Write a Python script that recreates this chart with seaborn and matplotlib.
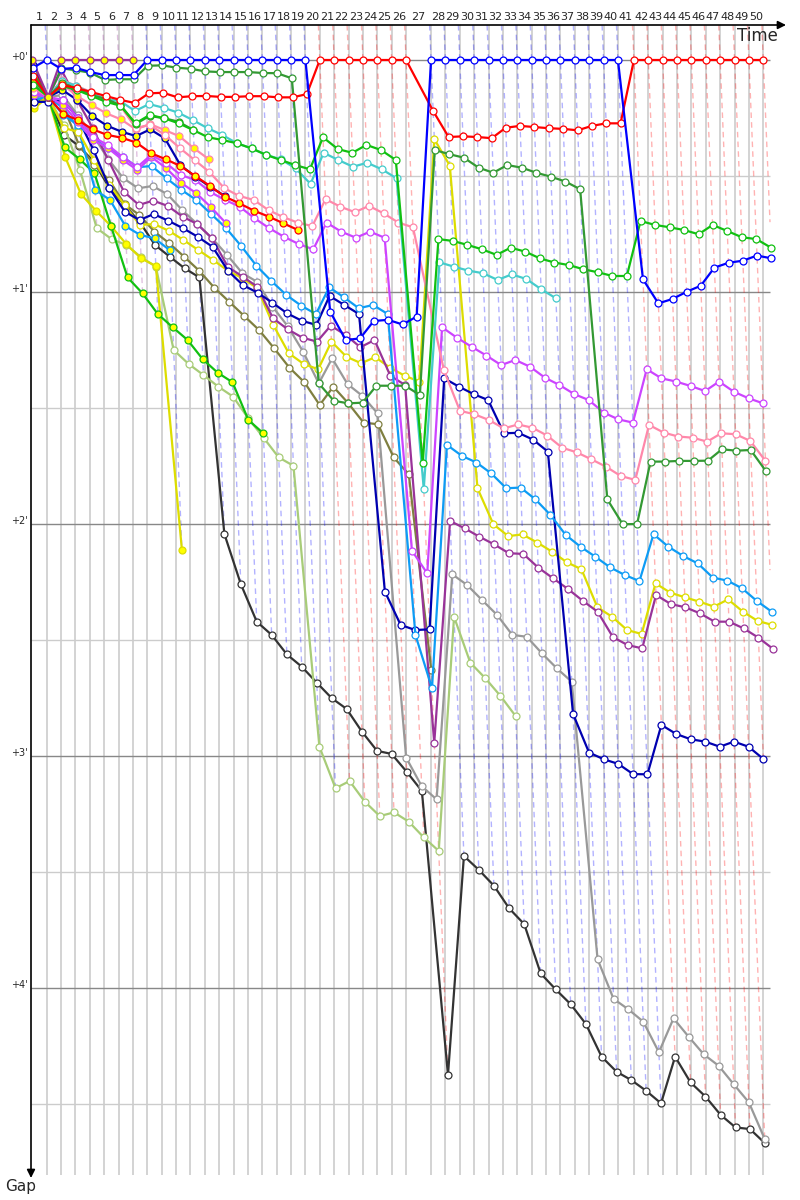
"""Race gap chart: gap to leader per lap, x axis is race time."""
import numpy as np
import matplotlib
matplotlib.use("Agg")
import matplotlib.pyplot as plt
import seaborn as sns

# leader lap times in seconds, laps 1..50
leader_lap_s = [90.0] * 50
leader_lap_s[26] = 156.5   # lap 27
leader_lap_s[40] = 100.2   # lap 41

# who led each lap (colour of the dashed lap line)
leader_by_lap = ["blue"] + ["purple"] * 6 + ["blue"] * 12 + ["red"] * 7 + ["blue"] * 14 + ["red"] * 10

# gap to leader in minutes, index = lap (0 = start)
gap_blue = [.034, 0, .039, .034, .052, .065, .065, .065] + [0] * 12 + \
    [1.085, 1.207, 1.2, 1.125, 1.12, 1.14, 1.106] + [0] * 14 + \
    [.945, 1.049, 1.03, .999, .973, .895, .874, .865, .843, .855]
gap_red = [.069, .159, .108, .121, .138, .155, .172, .185, .144, .141, .161, .156, .155, .159,
           .159, .156, .156, .161, .161, .147] + [0] * 7 + \
    [.22, .332, .329, .332, .337, .292, .284, .289, .294, .297, .303, .284, .273, .273] + [0] * 10
gap_dkgreen = [.056, .159, .036, .044, .055, .086, .083, .083, .025, .023, .033, .038, .049, .052,
               .052, .052, .056, .057, .079, 1.394, 1.469, 1.48, 1.477, 1.404, 1.404, 1.404, 1.444,
               .388, .406, .421, .464, .486, .453, .464, .486, .503, .524, .557, 1.894, 2.001, 2.0,
               1.731, 1.731, 1.728, 1.728, 1.727, 1.678, 1.684, 1.681, 1.772]
gap_green = [.108, .159, .112, .129, .155, .18, .197, .273, .237, .251, .273, .302, .333, .345,
             .359, .381, .409, .431, .453, .471, .333, .384, .40, .366, .388, .431, 1.739,
             .772, .78, .797, .816, .84, .809, .826, .855, .873, .884, .902, .915, .931, .931,
             .694, .711, .721, .733, .751, .711, .737, .764, .772, .809]
gap_cyan = [.078, .159, .089, .112, .144, .169, .177, .22, .19, .206, .227, .259, .294, .323,
            .359, .381, .409, .428, .467, .534, .40, .431, .46, .443, .471, .51, 1.849,
            .872, .891, .908, .919, .948, .924, .944, .988, 1.027]
gap_pink = [.095, .159, .086, .112, .138, .172, .198, .293, .28, .323, .379, .431, .483, .553,
            .586, .603, .647, .677, .701, .716, .60, .632, .656, .629, .661, .701, .721,
            1.336, 1.512, 1.527, 1.552, 1.588, 1.571, 1.585, 1.619, 1.671, 1.691, 1.721, 1.753,
            1.793, 1.81, 1.573, 1.606, 1.623, 1.628, 1.645, 1.609, 1.613, 1.642, 1.728]
gap_violet = [.138, .159, .172, .25, .332, .366, .418, .461, .409, .444, .496, .517, .569, .603,
              .632, .682, .725, .762, .793, .816, .701, .74, .766, .74, .766, 2.115, 2.213,
              1.152, 1.197, 1.236, 1.274, 1.315, 1.293, 1.322, 1.369, 1.401, 1.44, 1.466, 1.52,
              1.549, 1.563, 1.333, 1.372, 1.386, 1.405, 1.427, 1.386, 1.43, 1.458, 1.48]
gap_sky = [.151, .159, .237, .28, .336, .381, .417, .462, .457, .51, .56, .603, .664, .725,
           .802, .887, .953, 1.013, 1.059, 1.095, .98, 1.023, 1.07, 1.056, 1.095, 2.478, 2.708,
           1.659, 1.706, 1.735, 1.782, 1.846, 1.843, 1.894, 1.961, 2.047, 2.098, 2.141, 2.187,
           2.22, 2.246, 2.044, 2.098, 2.138, 2.17, 2.231, 2.244, 2.277, 2.332, 2.378]
gap_navy = [.181, .18, .172, .25, .388, .552, .654, .69, .664, .693, .725, .762, .805, .908,
            .97, 1.003, 1.046, 1.092, 1.124, 1.142, 1.017, 1.056, 1.095, 2.291, 2.435, 2.457,
            2.454, 1.372, 1.408, 1.44, 1.466, 1.609, 1.607, 1.636, 1.688, 2.819, 2.985, 3.014,
            3.034, 3.078, 3.079, 2.866, 2.905, 2.928, 2.938, 2.96, 2.938, 2.96, 3.013]
gap_purple = [.108, .159, .043, .172, .293, .431, .568, .625, .606, .629, .675, .707, .769, .891,
              .934, .977, 1.113, 1.161, 1.197, 1.214, 1.145, 1.185, 1.238, 1.207, 1.361, 1.401,
              2.943, 1.987, 2.019, 2.055, 2.088, 2.126, 2.129, 2.188, 2.234, 2.28, 2.331, 2.378,
              2.488, 2.522, 2.536, 2.306, 2.345, 2.359, 2.385, 2.421, 2.421, 2.45, 2.49, 2.539]
gap_grey = [.164, .159, .151, .237, .323, .428, .51, .553, .543, .578, .647, .707, .769, .841,
            .919, .956, 1.063, 1.147, 1.257, 1.394, 1.286, 1.397, 1.448, 1.523, 3.007, 3.13,
            3.187, 2.217, 2.263, 2.328, 2.392, 2.478, 2.486, 2.557, 2.622, 2.68, 3.876, 4.047,
            4.092, 4.145, 4.277, 4.131, 4.21, 4.286, 4.335, 4.415, 4.493, 4.651]
gap_olive = [.129, .159, .194, .366, .453, .517, .621, .668, .74, .79, .848, .908, .981, 1.042,
             1.103, 1.164, 1.243, 1.326, 1.389, 1.487, 1.408, 1.48, 1.563, 1.57, 1.713, 1.786,
             2.629]
gap_black = [.185, .159, .323, .371, .44, .552, .625, .698, .797, .848, .898, .937, 2.043, 2.259,
             2.421, 2.478, 2.562, 2.615, 2.684, 2.751, 2.797, 2.895, 2.978, 2.991, 3.068, 3.151,
             4.375, 3.431, 3.491, 3.559, 3.657, 3.725, 3.937, 4.006, 4.07, 4.155, 4.296, 4.361,
             4.397, 4.443, 4.497, 4.296, 4.407, 4.468, 4.547, 4.601, 4.608, 4.669]
gap_yellow = [.194, .159, .293, .31, .431, .539, .625, .711, .707, .736, .776, .819, .862, .908,
              .941, .984, 1.142, 1.264, 1.31, 1.333, 1.214, 1.279, 1.307, 1.281, 1.326, 1.361,
              1.386, .341, .455, 1.846, 2.001, 2.052, 2.045, 2.08, 2.119, 2.165, 2.195, 2.359,
              2.4, 2.457, 2.474, 2.256, 2.296, 2.316, 2.335, 2.356, 2.325, 2.378, 2.418, 2.435]
gap_ygreen = [.172, .159, .28, .474, .725, .772, .797, .85, .891, 1.25, 1.31, 1.358, 1.408, 1.451,
              1.545, 1.628, 1.713, 1.749, 2.96, 3.139, 3.108, 3.197, 3.259, 3.243, 3.283, 3.351,
              3.409, 2.4, 2.598, 2.665, 2.741, 2.828]
# second drivers (yellow markers)
gap_purple_2 = [0, .159, 0, 0, 0, 0, 0, 0]
gap_blue_2 = [.022, .159, .129, .172, .241, .283, .309, .328, .299, .338, .453, .503, .546, .586]
gap_red_2 = [.043, .159, .233, .259, .299, .323, .335, .356, .402, .428, .457, .50, .543, .589,
             .618, .65, .675, .704, .733]
gap_dkgreen_2 = [.086, .159, .10, .122, .151, .168, .194, .276, .241, .251, .266, .302]
gap_green_2 = [.151, .159, .376, .427, .488, .716, .937, 1.006, 1.095, 1.152, 1.207, 1.29, 1.348,
               1.389, 1.552, 1.609]
gap_pink_2 = [.121, .159, .103, .155, .194, .23, .256, .299, .276, .302, .328, .381, .428]
gap_violet_2 = [.15, .159, .194, .267, .345, .379, .431, .474, .418, .466, .53, .573, .634, .703]
gap_sky_2 = [.172, .159, .207, .293, .56, .603, .716, .754, .769, .819]
gap_yellow_2 = [.207, .159, .417, .578, .65, .716, .793, .855, .888, 2.112]

colors = {
    "blue": "#0000ff", "red": "#ff0000", "dkgreen": "#339933", "green": "#11c011",
    "cyan": "#44cccc", "pink": "#ff88aa", "violet": "#cc44ff", "sky": "#0d9cf5",
    "navy": "#0000b0", "purple": "#993399", "grey": "#999999", "olive": "#7f7f40",
    "black": "#333333", "yellow": "#dddd00", "ygreen": "#a8cc78",
}

series = [
    (gap_black, "black", "white"), (gap_grey, "grey", "white"), (gap_ygreen, "ygreen", "white"),
    (gap_olive, "olive", "white"), (gap_yellow_2, "yellow", "#ffff00"), (gap_green_2, "green", "#ffff00"),
    (gap_sky_2, "sky", "#ffff00"), (gap_yellow, "yellow", "white"), (gap_purple, "purple", "white"),
    (gap_navy, "navy", "white"), (gap_sky, "sky", "white"), (gap_violet_2, "violet", "#ffff00"),
    (gap_violet, "violet", "white"), (gap_blue_2, "navy", "#ffff00"), (gap_red_2, "red", "#ffff00"),
    (gap_pink_2, "pink", "#ffff00"), (gap_pink, "pink", "white"), (gap_cyan, "cyan", "white"),
    (gap_dkgreen_2, "dkgreen", "#ffff00"), (gap_green, "green", "white"), (gap_dkgreen, "dkgreen", "white"),
    (gap_red, "red", "white"), (gap_purple_2, "purple", "#ffff00"), (gap_blue, "blue", "white"),
]

# leader elapsed time (minutes) at the end of each lap
T = np.concatenate([[0.0], np.cumsum(leader_lap_s) / 60.0])

sns.set_style("white")
plt.rcParams["font.family"] = ["DejaVu Sans"]

W, H = 800, 1200
PX_PER_MIN_X = 14.375 / 1.5
X0_PX, Y0_PX, PX_PER_MIN_Y = 32.3, 60.0, 232.0
left_px, right_px, top_px, bottom_px = 31, 790, 25, 1175

fig = plt.figure(figsize=(W / 100, H / 100), dpi=100)
ax = fig.add_axes([left_px / W, 1 - bottom_px / H, (right_px - left_px) / W, (bottom_px - top_px) / H])
xlim = ((left_px - X0_PX) / PX_PER_MIN_X, (right_px - X0_PX) / PX_PER_MIN_X)
ylim = ((bottom_px - Y0_PX) / PX_PER_MIN_Y, (top_px - Y0_PX) / PX_PER_MIN_Y)
x_end = (770 - X0_PX) / PX_PER_MIN_X

# grid
ax.vlines(T[1:], ylim[1], ylim[0], color="#cccccc", lw=1.2, zorder=0)
for m in np.arange(0.5, 5, 1.0):
    ax.hlines(m, xlim[0], x_end, color="#cccccc", lw=1.0, zorder=0)
for m in range(5):
    ax.hlines(m, xlim[0], x_end, color="#888888", lw=1.0, zorder=0.5)

# dashed lap lines: same race time as the leader crossing the line,
# drawn down to the last car on that lap
for k in range(1, 51):
    g_last = max(s[0][k] for s in series if len(s[0]) > k)
    g_last = min(g_last, x_end - T[k])
    g_line = np.array([ylim[1], g_last])
    ax.plot(T[k] + g_line, g_line, color=colors[leader_by_lap[k - 1]], alpha=0.3,
            lw=1.0, ls=(0, (4, 3)), zorder=0.8)

for i, (gaps, cname, face) in enumerate(series):
    g = np.array(gaps, dtype=float)
    x = T[:len(g)] + g
    sns.lineplot(x=x, y=g, sort=False, estimator=None, color=colors[cname], linewidth=1.6,
                 marker="o", markersize=5, markerfacecolor=face, markeredgecolor=colors[cname],
                 markeredgewidth=0.9, ax=ax, zorder=2 + i * 0.01)

ax.set_xlim(*xlim)
ax.set_ylim(*ylim)
ax.axis("off")

# lap numbers along the top
for k in range(1, 51):
    ax.text((T[k - 1] + T[k]) / 2, (17 - Y0_PX) / PX_PER_MIN_Y, str(k), ha="center",
            va="center", fontsize=8, clip_on=False)

# gap labels
for m in range(5):
    ax.text((28 - X0_PX) / PX_PER_MIN_X, m - 3 / PX_PER_MIN_Y, f"+{m}'", ha="right",
            va="center", fontsize=7, clip_on=False)

# axes with arrows
arrow = dict(arrowstyle="-|>", color="black", lw=1.2, mutation_scale=12, shrinkA=0, shrinkB=0)
ax.annotate("", xy=(786, H - top_px), xytext=(left_px, H - top_px), xycoords="figure pixels",
            textcoords="figure pixels", arrowprops=arrow, annotation_clip=False)
ax.annotate("", xy=(left_px, H - 1178), xytext=(left_px, H - top_px), xycoords="figure pixels",
            textcoords="figure pixels", arrowprops=arrow, annotation_clip=False)
fig.text(778 / W, 1 - 36 / H, "Time", ha="right", va="center", fontsize=12)
fig.text(21 / W, 1 - 1186 / H, "Gap", ha="center", va="center", fontsize=11)

fig.savefig("out.png", dpi=100)
